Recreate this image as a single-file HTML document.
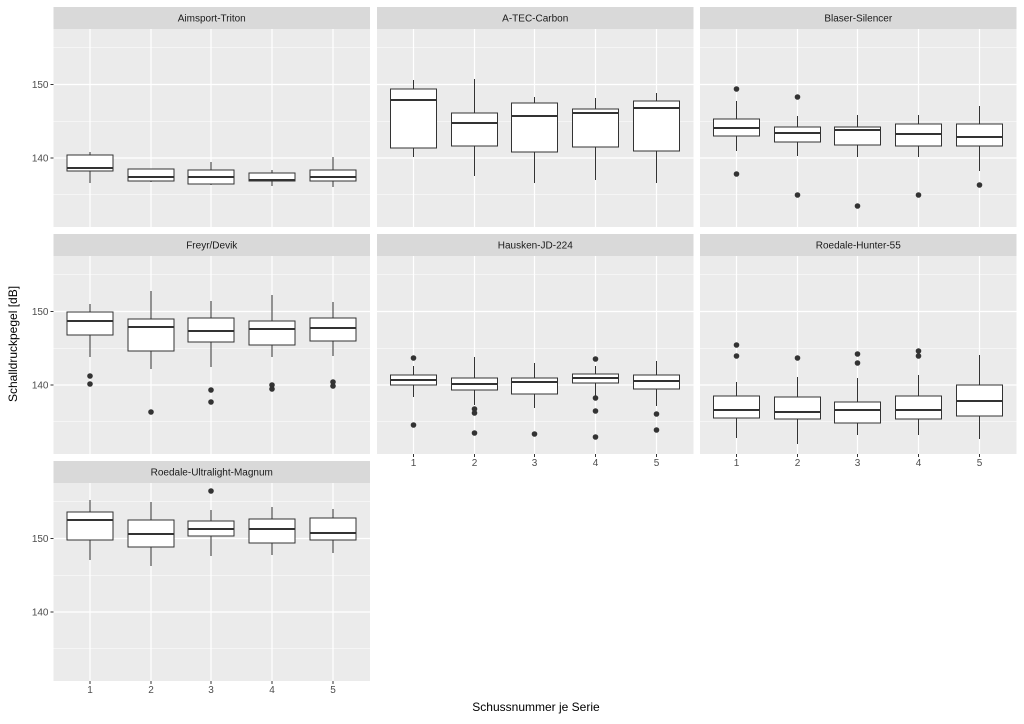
<!DOCTYPE html>
<html><head><meta charset="utf-8"><style>
body{margin:0;background:#fff;}
svg{display:block;font-family:"Liberation Sans",sans-serif;}
</style></head><body>
<svg id="s" width="1024" height="724" xmlns="http://www.w3.org/2000/svg"></svg>
<script>
const s=document.getElementById('s');let h='';
const cols=[53.5,377,700],pw=316.5;
const rows=[[7,29,227],[234,256,454],[461,483,681]];
const xs=[36.5,97.5,157.5,218.5,279.5];
const y150=84.5,dd=7.35;
const panels=[
["Aimsport-Triton",0,0,[[152,155,168,171,183,[]],[169,169,177,181,182,[]],[162,170,177,184,185,[]],[170,173,180,181,186,[]],[157,170,177,181,187,[]]]],
["A-TEC-Carbon",0,1,[[80,89,100,148,157,[]],[79,113,123,146,176,[]],[97,103,116,152,183,[]],[98,109,113,147,180,[]],[93,101,108,151,183,[]]]],
["Blaser-Silencer",0,2,[[101,119,128,136,151,[89,174]],[116,127,133,142,156,[97,195]],[115,127,130,145,157,[206]],[115,124,134,146,157,[195]],[106,124,137,146,171,[185]]]],
["Freyr/Devik",1,0,[[304,312,321,335,357,[376,384]],[291,319,327,351,369,[412]],[301,318,331,342,367,[390,402]],[295,321,329,345,357,[385,389]],[302,318,328,341,356,[382,386]]]],
["Hausken-JD-224",1,1,[[366,375,380,385,397,[358,425]],[357,378,384,390,405,[409,413,433]],[363,378,382,394,408,[434]],[366,374,378,383,397,[359,398,411,437]],[361,375,381,389,406,[414,430]]]],
["Roedale-Hunter-55",1,2,[[382,396,410,418,438,[345,356]],[377,397,412,419,444,[358]],[378,402,410,423,435,[354,363]],[375,396,410,419,435,[351,356]],[355,385,401,416,439,[]]]],
["Roedale-Ultralight-Magnum",2,0,[[500,512,520,540,560,[]],[502,520,534,547,566,[]],[510,521,529,536,556,[491]],[507,519,529,543,555,[]],[509,518,533,540,553,[]]]]
];
panels.forEach(([name,r,c,boxes])=>{
 const x0=cols[c],[st,pt,pb]=rows[r],off=r*227;
 h+=`<rect x="${x0}" y="${st}" width="${pw}" height="${pt-st}" fill="#d9d9d9"/>`;
 h+=`<text x="${x0+pw/2}" y="${st+14.5}" font-size="10" fill="#1a1a1a" text-anchor="middle">${name}</text>`;
 h+=`<rect x="${x0}" y="${pt}" width="${pw}" height="${pb-pt}" fill="#ebebeb"/>`;
 [135,145,155].forEach(v=>{const y=y150+off-(v-150)*dd;h+=`<line x1="${x0}" x2="${x0+pw}" y1="${y}" y2="${y}" stroke="#fff" stroke-width="0.6"/>`;});
 [140,150].forEach(v=>{const y=y150+off-(v-150)*dd;h+=`<line x1="${x0}" x2="${x0+pw}" y1="${y}" y2="${y}" stroke="#fff" stroke-width="1.2"/>`;});
 xs.forEach(x=>{h+=`<line x1="${x0+x}" x2="${x0+x}" y1="${pt}" y2="${pb}" stroke="#fff" stroke-width="1.2"/>`;});
 boxes.forEach((b,i)=>{const cx=x0+xs[i];const[wt,q3,md,q1,wl,out]=b;
  h+=`<line x1="${cx}" x2="${cx}" y1="${wt}" y2="${q3}" stroke="#333" stroke-width="1"/>`;
  h+=`<line x1="${cx}" x2="${cx}" y1="${q1}" y2="${wl}" stroke="#333" stroke-width="1"/>`;
  h+=`<rect x="${cx-23}" y="${q3}" width="46" height="${q1-q3}" fill="#fff" stroke="#333" stroke-width="1"/>`;
  h+=`<line x1="${cx-23}" x2="${cx+23}" y1="${md}" y2="${md}" stroke="#333" stroke-width="2"/>`;
  out.forEach(o=>{h+=`<circle cx="${cx}" cy="${o}" r="2.8" fill="#333"/>`;});
 });
 if(c==0){[140,150].forEach(v=>{const y=y150+off-(v-150)*dd;h+=`<line x1="${x0-3}" x2="${x0}" y1="${y}" y2="${y}" stroke="#333"/><text x="${x0-5}" y="${y+3.5}" font-size="10" fill="#4d4d4d" text-anchor="end">${v}</text>`;});}
 if((r==1&&c>0)||(r==2)){xs.forEach((x,i)=>{h+=`<line x1="${x0+x}" x2="${x0+x}" y1="${pb}" y2="${pb+3}" stroke="#333"/><text x="${x0+x}" y="${pb+12}" font-size="10" fill="#4d4d4d" text-anchor="middle">${i+1}</text>`;});}
});
h+=`<text x="536" y="711" font-size="12" fill="#000" text-anchor="middle">Schussnummer je Serie</text>`;
h+=`<text transform="translate(17,344) rotate(-90)" font-size="12" fill="#000" text-anchor="middle">Schalldruckpegel [dB]</text>`;
s.innerHTML=h;
</script>
</body></html>
